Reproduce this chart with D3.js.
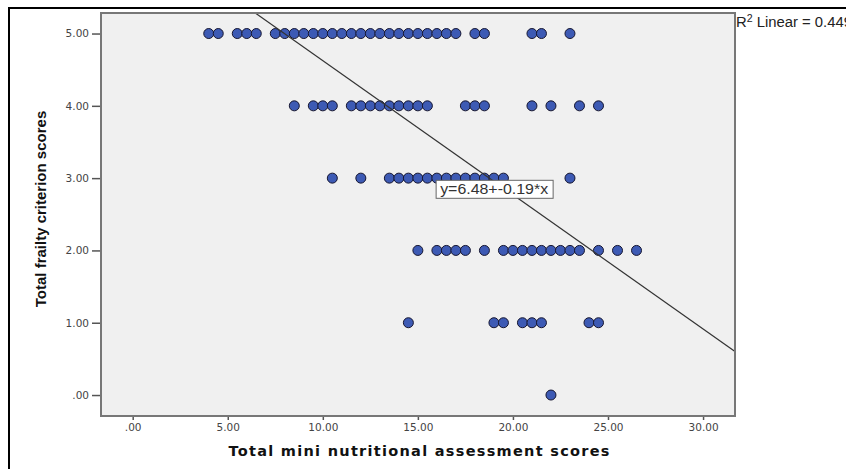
<!DOCTYPE html>
<html>
<head>
<meta charset="utf-8">
<script src="https://cdn.jsdelivr.net/npm/d3@7"></script>
<style>
  body { margin: 0; background: #fff; }
  svg { display: block; }
</style>
</head>
<body>
<svg id="chart" width="846" height="469"></svg>
<script>
const svg = d3.select("#chart");

// MNA score (x) for each frailty score row (y)
const row5 = [4, 4.5, 5.5, 6, 6.5, 7.5, 8, 8.5, 9, 9.5, 10, 10.5, 11, 11.5, 12, 12.5, 13, 13.5, 14,
              14.5, 15, 15.5, 16, 16.5, 17, 18, 18.5, 21, 21.5, 23];
const row4 = [8.5, 9.5, 10, 10.5, 11.5, 12, 12.5, 13, 13.5, 14, 14.5, 15, 15.5, 17.5, 18, 18.5,
              21, 22, 23.5, 24.5];
const row3 = [10.5, 12, 13.5, 14, 14.5, 15, 15.5, 16, 16.5, 17, 17.5, 18, 18.5, 19, 19.5, 23];
const row2 = [15, 16, 16.5, 17, 17.5, 18.5, 19.5, 20, 20.5, 21, 21.5, 22, 22.5, 23, 23.5, 24.5,
              25.5, 26.5];
const row1 = [14.5, 19, 19.5, 20.5, 21, 21.5, 24, 24.5];
const row0 = [22];

const xTicks = [0, 5, 10, 15, 20, 25, 30];
const yTicks = [0, 1, 2, 3, 4, 5];

const intercept = 6.48;
const slope = -0.1855;
const fitLabel = "y=6.48+-0.19*x";
const r2Label = "0.449";

const pointData = [];
[[0, row0], [1, row1], [2, row2], [3, row3], [4, row4], [5, row5]].forEach(([y, xs]) => {
    xs.forEach(x => pointData.push({x: x, y: y}));
});

const plot = {left: 101, top: 13, width: 634, height: 403};

const xscale = d3.scaleLinear()
    .domain([-1.667, 31.68])
    .range([plot.left, plot.left + plot.width]);

const yscale = d3.scaleLinear()
    .domain([-0.29, 5.284])
    .range([plot.top + plot.height, plot.top]);

// outer black frame (runs off the right and bottom)
svg.append("rect")
    .attr("x", 9).attr("y", 8)
    .attr("width", 900).attr("height", 500)
    .attr("fill", "none")
    .attr("stroke", "#000")
    .attr("stroke-width", 2);

svg.append("defs").append("clipPath").attr("id", "clip")
    .append("rect")
    .attr("x", plot.left).attr("y", plot.top)
    .attr("width", plot.width).attr("height", plot.height);

svg.append("rect")
    .attr("x", plot.left).attr("y", plot.top)
    .attr("width", plot.width).attr("height", plot.height)
    .attr("fill", "#f0f0f0");

// axes
const tickFont = "DejaVu Sans, Verdana, sans-serif";

const xAxis = svg.append("g")
    .attr("transform", `translate(0,${plot.top + plot.height})`)
    .call(d3.axisBottom(xscale).tickValues(xTicks).tickSize(4).tickPadding(4)
        .tickFormat(d => d === 0 ? ".00" : d3.format(".2f")(d)));

const yAxis = svg.append("g")
    .attr("transform", `translate(${plot.left},0)`)
    .call(d3.axisLeft(yscale).tickValues(yTicks).tickSize(9).tickPadding(3)
        .tickFormat(d => d === 0 ? ".00" : d3.format(".2f")(d)));

[xAxis, yAxis].forEach(g => {
    g.select(".domain").remove();
    g.selectAll(".tick line").attr("stroke", "#555").attr("stroke-width", 1.5);
    g.selectAll(".tick text")
        .attr("fill", "#444")
        .style("font-family", tickFont)
        .style("font-size", "10.5px");
});

// points
svg.append("g").selectAll("circle").data(pointData).join("circle")
    .attr("cx", d => xscale(d.x))
    .attr("cy", d => yscale(d.y))
    .attr("r", 5)
    .attr("fill", "#3d5ab4")
    .attr("stroke", "#161630")
    .attr("stroke-width", 1);

// fit line
const xd = xscale.domain();
svg.append("line")
    .attr("clip-path", "url(#clip)")
    .attr("x1", xscale(xd[0])).attr("y1", yscale(intercept + slope * xd[0]))
    .attr("x2", xscale(xd[1])).attr("y2", yscale(intercept + slope * xd[1]))
    .attr("stroke", "#333")
    .attr("stroke-width", 1.2);

// plot frame
svg.append("rect")
    .attr("x", plot.left).attr("y", plot.top)
    .attr("width", plot.width).attr("height", plot.height)
    .attr("fill", "none")
    .attr("stroke", "#777")
    .attr("stroke-width", 2);

// equation box
const eq = svg.append("g")
    .attr("transform", `translate(${xscale(15.96)},${yscale(2.97)})`);
eq.append("rect")
    .attr("width", 117).attr("height", 18)
    .attr("fill", "#fff")
    .attr("stroke", "#666")
    .attr("stroke-width", 1);
eq.append("text")
    .attr("x", 4).attr("y", 14)
    .attr("fill", "#333")
    .attr("textLength", 108)
    .attr("lengthAdjust", "spacingAndGlyphs")
    .style("font-family", "Liberation Sans, Arial, sans-serif")
    .style("font-size", "14px")
    .text(fitLabel);

// R squared label (runs off the right edge as in the original)
const r2 = svg.append("text")
    .attr("x", plot.left + plot.width + 1)
    .attr("y", 27)
    .attr("fill", "#222")
    .attr("textLength", 116)
    .attr("lengthAdjust", "spacingAndGlyphs")
    .style("font-family", "Liberation Sans, Arial, sans-serif")
    .style("font-size", "14px");
r2.append("tspan").text("R");
r2.append("tspan").attr("dy", -5).style("font-size", "10px").text("2");
r2.append("tspan").attr("dy", 5).text(" Linear = " + r2Label);

// axis titles
svg.append("text")
    .attr("x", (xscale(xd[0]) + xscale(xd[1])) / 2 + 1)
    .attr("y", 456)
    .attr("text-anchor", "middle")
    .attr("fill", "#111")
    .attr("textLength", 381)
    .attr("lengthAdjust", "spacing")
    .style("font-family", "DejaVu Sans, Verdana, sans-serif")
    .style("font-weight", "bold")
    .style("font-size", "14.5px")
    .text("Total mini nutritional assessment scores");

svg.append("text")
    .attr("transform", `translate(46,${209}) rotate(-90)`)
    .attr("text-anchor", "middle")
    .attr("fill", "#111")
    .style("font-family", "Liberation Sans Narrow, Arial Narrow, sans-serif")
    .style("font-weight", "bold")
    .style("font-size", "15px")
    .text("Total frailty criterion scores");
</script>
</body>
</html>
